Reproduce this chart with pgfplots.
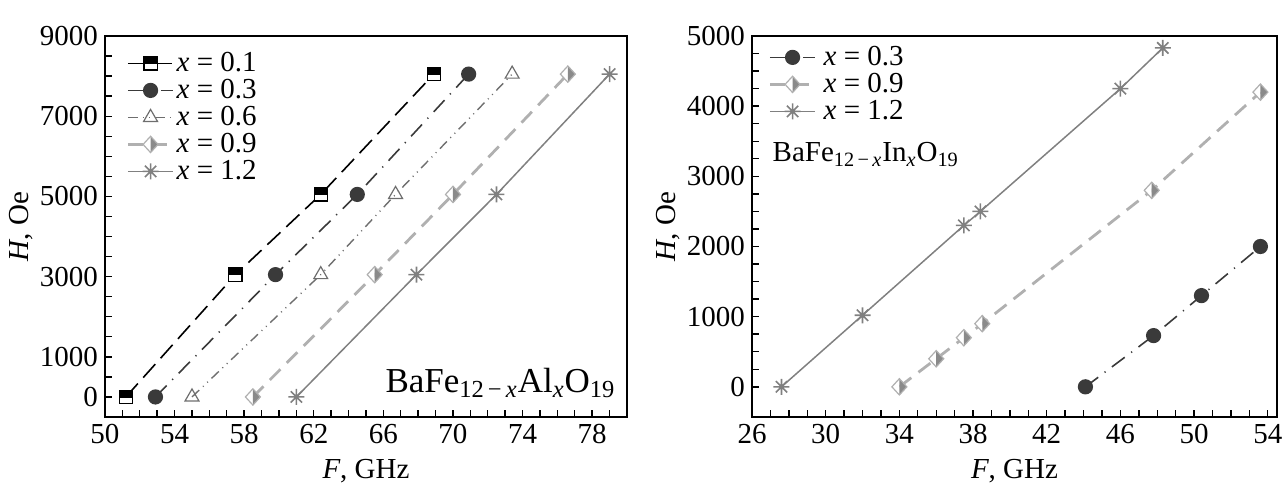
\documentclass[border=0pt]{standalone}
\usepackage{fontspec}
\setmainfont{Liberation Serif}
\usepackage{pgfplots}
\pgfplotsset{compat=1.18}
\usetikzlibrary{plotmarks}

\definecolor{cA}{HTML}{000000}
\definecolor{cB}{HTML}{3A3A3A}
\definecolor{cC}{HTML}{6E6E6E}
\definecolor{cDl}{HTML}{B0B0B0}
\definecolor{cDf}{HTML}{8A8A8A}
\definecolor{cE}{HTML}{808080}

\pgfdeclareplotmark{hsq}{%
  \pgfpathrectangle{\pgfqpoint{-\pgfplotmarksize}{-\pgfplotmarksize}}{\pgfqpoint{2\pgfplotmarksize}{2\pgfplotmarksize}}%
  \pgfsetfillcolor{white}\pgfusepathqfillstroke
  \pgfpathrectangle{\pgfqpoint{-\pgfplotmarksize}{0pt}}{\pgfqpoint{2\pgfplotmarksize}{\pgfplotmarksize}}%
  \pgfsetfillcolor{black}\pgfusepathqfillstroke}

\pgfdeclareplotmark{hdia}{%
  \pgfpathmoveto{\pgfqpoint{0pt}{1.2\pgfplotmarksize}}%
  \pgfpathlineto{\pgfqpoint{-1.1\pgfplotmarksize}{0pt}}%
  \pgfpathlineto{\pgfqpoint{0pt}{-1.2\pgfplotmarksize}}%
  \pgfpathclose
  \pgfsetfillcolor{white}\pgfusepathqfill
  \pgfpathmoveto{\pgfqpoint{0pt}{1.2\pgfplotmarksize}}%
  \pgfpathlineto{\pgfqpoint{1.1\pgfplotmarksize}{0pt}}%
  \pgfpathlineto{\pgfqpoint{0pt}{-1.2\pgfplotmarksize}}%
  \pgfpathclose
  \pgfsetfillcolor{cDf}\pgfusepathqfill
  \pgfpathmoveto{\pgfqpoint{0pt}{1.2\pgfplotmarksize}}%
  \pgfpathlineto{\pgfqpoint{-1.1\pgfplotmarksize}{0pt}}%
  \pgfpathlineto{\pgfqpoint{0pt}{-1.2\pgfplotmarksize}}%
  \pgfpathlineto{\pgfqpoint{1.1\pgfplotmarksize}{0pt}}%
  \pgfpathclose
  \pgfsetstrokecolor{cDl}\pgfusepathqstroke}

\pgfdeclareplotmark{star8}{%
  \pgfpathmoveto{\pgfqpoint{0pt}{\pgfplotmarksize}}\pgfpathlineto{\pgfqpoint{0pt}{-\pgfplotmarksize}}%
  \pgfpathmoveto{\pgfqpoint{\pgfplotmarksize}{0pt}}\pgfpathlineto{\pgfqpoint{-\pgfplotmarksize}{0pt}}%
  \pgfpathmoveto{\pgfqpoint{.707\pgfplotmarksize}{.707\pgfplotmarksize}}\pgfpathlineto{\pgfqpoint{-.707\pgfplotmarksize}{-.707\pgfplotmarksize}}%
  \pgfpathmoveto{\pgfqpoint{-.707\pgfplotmarksize}{.707\pgfplotmarksize}}\pgfpathlineto{\pgfqpoint{.707\pgfplotmarksize}{-.707\pgfplotmarksize}}%
  \pgfusepathqstroke}

\newcommand{\fs}{\fontsize{14.5}{16}\selectfont}

\pgfplotsset{
  myax/.style={
    scale only axis,
    height=190.5pt,
    axis line style={line width=1pt},
    tick align=inside,
    xtick pos=bottom, ytick pos=left,
    tick style={line width=0.7pt, black},
    major tick length=3.5pt, minor tick length=3.5pt,
    font=\fs,
    tick label style={font=\fs},
    /pgf/number format/assume math mode=true,
    /pgf/number format/1000 sep={},
    scaled ticks=false,
    xlabel style={at={(axis description cs:0.5,0)}, anchor=center, yshift=-27pt},
    legend style={draw=none, fill=none, anchor=north west, inner sep=0pt,
      font=\fs, row sep=0.5pt,
      nodes={inner sep=1pt, text height=9.5pt, text depth=1.5pt}},
    legend cell align=left,
    legend image code/.code={\draw[mark repeat=2,mark phase=2] plot coordinates {(0cm,0cm) (0.4cm,0cm) (0.8cm,0cm)};},
  },
  sA/.style={cA, line width=0.8pt, dash pattern=on 9pt off 4pt, mark=hsq, mark size=3.3pt, mark options={solid, line width=0.6pt}},
  sB/.style={cB, line width=0.8pt, dash pattern=on 8pt off 4pt on 0.6pt off 4pt, mark=*, mark size=3.4pt, mark options={solid, fill=cB}},
  sC/.style={cC, line width=0.7pt, dash pattern=on 5pt off 2.5pt on 0.5pt off 2.5pt on 0.5pt off 2.5pt, mark=triangle, mark size=4pt, mark options={solid, line width=0.6pt}},
  sD/.style={cDl, line width=1.4pt, dash pattern=on 7.5pt off 4.5pt, mark=hdia, mark size=3.4pt, mark options={solid, line width=0.6pt}},
  sE/.style={cE, line width=0.75pt, mark=star8, mark size=4pt, mark options={solid, line width=0.8pt}},
}

\begin{document}
\begin{tikzpicture}
\path[use as bounding box] (-52.5pt,-37.5pt) rectangle (590.5pt,208.5pt);

\begin{axis}[myax,
  at={(0pt,0pt)}, anchor=south west,
  width=261pt,
  xmin=50, xmax=80, ymin=-500, ymax=9000,
  xtick={50,54,...,78}, minor xtick={50,51,...,80},
  ytick={0,1000,3000,5000,7000,9000}, minor ytick={0,500,...,9000},
  xlabel={\textit{F}, GHz},
  ylabel={\textit{H}, Oe},
  ylabel style={at={(axis description cs:-0.16,0.5)}, anchor=center},
  legend style={at={(axis description cs:0,1)}, xshift=10.5pt, yshift=-7pt},
]
\addplot[sA] coordinates {(51.2,0) (57.5,3050) (62.4,5050) (68.9,8050)};
\addlegendentry{\textit{x} = 0.1}
\addplot[sB] coordinates {(52.9,0) (59.8,3050) (64.5,5050) (70.9,8050)};
\addlegendentry{\textit{x} = 0.3}
\addplot[sC] coordinates {(55.0,0) (62.4,3050) (66.7,5050) (73.4,8050)};
\addlegendentry{\textit{x} = 0.6}
\addplot[sD] coordinates {(58.5,0) (65.5,3050) (70.0,5050) (76.6,8050)};
\addlegendentry{\textit{x} = 0.9}
\addplot[sE] coordinates {(61.0,0) (67.9,3050) (72.5,5050) (79.0,8050)};
\addlegendentry{\textit{x} = 1.2}
\node[anchor=west, inner sep=0pt, font=\fontsize{17.5}{19}\selectfont] at (axis cs:66.1,340) {BaFe\textsubscript{12\,−\,\textit{x}}Al\textsubscript{\textit{x}}O\textsubscript{19}};
\node[anchor=center, inner sep=0pt] at (rel axis cs:1,1) [xshift=-7.5pt, yshift=11pt] {\textit{a}};
\end{axis}

\begin{axis}[myax,
  at={(323.5pt,0pt)}, anchor=south west,
  width=262.5pt,
  xmin=26, xmax=54.5, ymin=-430, ymax=5000,
  xtick={26,30,...,54}, minor xtick={26,27,...,54},
  ytick={0,1000,...,5000}, minor ytick={0,250,...,5000},
  xlabel={\textit{F}, GHz},
  ylabel={\textit{H}, Oe},
  ylabel style={at={(axis description cs:-0.16,0.5)}, anchor=center},
  legend style={at={(axis description cs:0,1)}, xshift=8pt, yshift=-4pt,
    /tikz/every odd column/.append style={column sep=2.5pt}},
]
\addplot[sB] coordinates {(44.1,0) (47.8,730) (50.4,1300) (53.6,2000)};
\addlegendentry{\textit{x} = 0.3}
\addplot[sD] coordinates {(34,0) (36,400) (37.5,700) (38.5,900) (47.7,2800) (53.6,4200)};
\addlegendentry{\textit{x} = 0.9}
\addplot[sE] coordinates {(27.6,0) (32,1020) (37.5,2300) (38.4,2500) (46,4250) (48.3,4830)};
\addlegendentry{\textit{x} = 1.2}
\node[anchor=west, inner sep=0pt] at (axis cs:27.1,3310) {BaFe\textsubscript{12\,−\,\textit{x}}In\textsubscript{\textit{x}}O\textsubscript{19}};
\node[anchor=center, inner sep=0pt] at (rel axis cs:1,1) [xshift=-9.5pt, yshift=11pt] {\textit{b}};
\end{axis}
\end{tikzpicture}
\end{document}
